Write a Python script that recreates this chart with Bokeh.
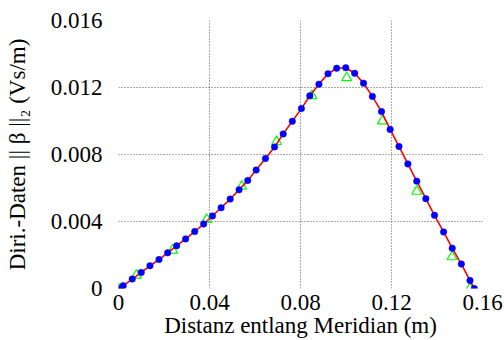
from bokeh.plotting import figure
from bokeh.models import Range1d, FixedTicker, CustomJSTickFormatter
from bokeh.embed import file_html
from bokeh.resources import INLINE

# Blue dots / red curve (distance along meridian, Dirichlet data)
x_line = [0.0, 0.00207, 0.00604, 0.0100, 0.01383, 0.0178, 0.0216, 0.02555, 0.0295,
          0.0335, 0.03744, 0.0413, 0.0451, 0.0491, 0.0530, 0.0568, 0.0605, 0.0646,
          0.0686, 0.0724, 0.0764, 0.0804, 0.0841, 0.0881, 0.0921, 0.0959, 0.0999,
          0.1038, 0.1077, 0.1116, 0.1156, 0.1194, 0.1233, 0.1272, 0.1311, 0.1351,
          0.1389, 0.1429, 0.1467, 0.1507, 0.1545, 0.1564]
y_line = [0.0, 0.000167, 0.000565, 0.000958, 0.001356, 0.00173, 0.00213, 0.00255, 0.00296,
          0.0034, 0.00385, 0.00433, 0.00482, 0.00534, 0.00589, 0.00645, 0.00707, 0.00776,
          0.00845, 0.00923, 0.00998, 0.01074, 0.01151, 0.0122, 0.01282, 0.01315, 0.01318,
          0.01285, 0.01226, 0.01147, 0.01056, 0.0095, 0.00848, 0.00744, 0.00641, 0.00536,
          0.00437, 0.00338, 0.00241, 0.00146, 0.00048, 0.0]

# Green triangles
x_tri = [0.0, 0.0079, 0.0238, 0.0388, 0.0542, 0.0695, 0.0850, 0.1003, 0.1160, 0.1311, 0.1466, 0.1545]
y_tri = [0.0, 0.00079, 0.00229, 0.00412, 0.0061, 0.00877, 0.01151, 0.01258, 0.0100, 0.0058, 0.00189, 0.0]

x_ticks = [0, 0.04, 0.08, 0.12, 0.16]
x_tick_labels = ["0", "0.04", "0.08", "0.12", "0.16"]
y_ticks = [0, 0.004, 0.008, 0.012, 0.016]
y_tick_labels = ["0", "0.004", "0.008", "0.012", "0.016"]

FONT = "Liberation Serif"

p = figure(width=504, height=340, output_backend="svg", toolbar_location=None,
           x_range=Range1d(0, 0.16), y_range=Range1d(0, 0.016),
           min_border_left=118, min_border_right=22, min_border_top=20, min_border_bottom=51)

p.outline_line_color = None
p.background_fill_color = "white"
p.border_fill_color = "white"

p.xaxis.axis_line_color = None
p.yaxis.axis_line_color = None
p.xaxis.major_tick_line_color = None
p.yaxis.major_tick_line_color = None
p.xaxis.minor_tick_line_color = None
p.yaxis.minor_tick_line_color = None
p.xaxis.major_label_text_font = FONT
p.yaxis.major_label_text_font = FONT
p.xaxis.major_label_text_font_size = "23px"
p.yaxis.major_label_text_font_size = "23px"
p.xaxis.major_label_text_font_style = "normal"
p.yaxis.major_label_text_font_style = "normal"
p.xaxis.major_label_text_color = "black"
p.yaxis.major_label_text_color = "black"
p.xaxis.axis_label_text_font = FONT
p.yaxis.axis_label_text_font = FONT
p.xaxis.axis_label_text_font_size = "23px"
p.yaxis.axis_label_text_font_size = "23px"
p.xaxis.axis_label_text_font_style = "normal"
p.yaxis.axis_label_text_font_style = "normal"
p.xaxis.axis_label_text_color = "black"
p.yaxis.axis_label_text_color = "black"

p.xaxis.ticker = FixedTicker(ticks=x_ticks)
p.yaxis.ticker = FixedTicker(ticks=y_ticks)

js = """
let best = 0;
for (let k = 0; k < tv.length; k++) {
  if (Math.abs(tv[k] - tick) < Math.abs(tv[best] - tick)) { best = k; }
}
return tl[best];
"""
p.xaxis.formatter = CustomJSTickFormatter(args=dict(tv=x_ticks, tl=x_tick_labels), code=js)
p.yaxis.formatter = CustomJSTickFormatter(args=dict(tv=y_ticks, tl=y_tick_labels), code=js)

p.xaxis.axis_label = "Distanz entlang Meridian (m)"
p.yaxis.axis_label = "Diri.-Daten || β ||\u2082 (Vs/m)"
p.xaxis.major_label_standoff = 0
p.xaxis.axis_label_standoff = 0
p.yaxis.major_label_standoff = 10
p.yaxis.axis_label_standoff = 18

for g in (p.xgrid[0], p.ygrid[0]):
    g.grid_line_color = "#555555"
    g.grid_line_dash = "1 2"
    g.grid_line_width = 1
    g.grid_line_alpha = 1.0

p.scatter(x_tri, y_tri, marker="triangle", size=10, fill_color=None,
          line_color="#00ff00", line_width=1.2)
p.line(x_line, y_line, line_color="red", line_width=1.6)
p.scatter(x_line, y_line, marker="circle", size=6.5, fill_color="#0000ff",
          line_color="#0000ff", line_width=0.5)

open("out.html", "w").write(file_html(p, INLINE))
